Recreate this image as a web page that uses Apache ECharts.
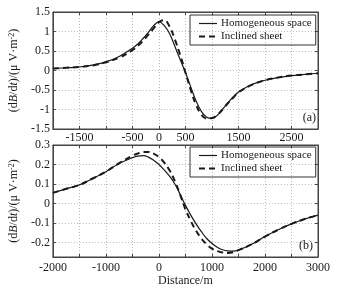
<!DOCTYPE html>
<html>
<head>
<meta charset="utf-8">
<script src="https://cdn.jsdelivr.net/npm/echarts@6/dist/echarts.min.js"></script>
<style>
  html, body { margin: 0; padding: 0; background: #fff; }
  #chart { width: 346px; height: 292px; }
</style>
</head>
<body>
<div id="chart"></div>
<script>
// distance (m), shared by both panels
const distances = [-2000, -1750, -1500, -1250, -1000, -750, -500, -400, -300, -200, -100, 0, 100, 200, 300, 400,
  500, 600, 700, 800, 900, 1000, 1100, 1200, 1300, 1400, 1500, 1750, 2000, 2250, 2500, 2750, 3000]

// panel (a)
const homogeneousA = [0.05, 0.07, 0.09, 0.14, 0.22, 0.36, 0.57, 0.68, 0.82, 0.98, 1.15, 1.25, 1.15, 0.95, 0.62, 0.28,
  -0.05, -0.42, -0.78, -1.05, -1.2, -1.23, -1.15, -0.99, -0.83, -0.68, -0.55, -0.36, -0.25, -0.18, -0.13, -0.1, -0.07]
const inclinedA = [0.05, 0.07, 0.09, 0.13, 0.21, 0.33, 0.52, 0.63, 0.76, 0.92, 1.08, 1.24, 1.29, 1.13, 0.8, 0.4,
  -0.05, -0.5, -0.88, -1.13, -1.23, -1.22, -1.14, -1.0, -0.84, -0.7, -0.56, -0.37, -0.25, -0.18, -0.13, -0.1, -0.07]

// panel (b)
const homogeneousB = [0.054, 0.075, 0.095, 0.128, 0.163, 0.205, 0.235, 0.243, 0.245, 0.238, 0.222, 0.2, 0.172, 0.14, 0.1, 0.047,
  -0.01, -0.06, -0.105, -0.145, -0.18, -0.205, -0.225, -0.238, -0.244, -0.245, -0.24, -0.21, -0.17, -0.135, -0.105, -0.08, -0.06]
const inclinedB = [0.054, 0.075, 0.095, 0.128, 0.163, 0.207, 0.245, 0.256, 0.264, 0.264, 0.256, 0.238, 0.21, 0.17, 0.115, 0.045,
  -0.03, -0.09, -0.14, -0.18, -0.21, -0.232, -0.245, -0.252, -0.254, -0.25, -0.24, -0.21, -0.17, -0.135, -0.105, -0.08, -0.06]

const xLabelsA = [-1500, -500, 0, 500, 1500, 2500]
const xLabelsB = [-2000, -1000, 0, 1000, 2000, 3000]
const yLabelsB = [-0.2, -0.1, 0, 0.1, 0.2, 0.3]

const seriesNames = ['Homogeneous space', 'Inclined sheet']

const FONT = 'Liberation Serif, Times New Roman, serif'
const INK = '#1a1a1a'
const DASH = [6, 4]

function pairs(ys) {
  return distances.map((x, i) => [x, ys[i]])
}

function yName() {
  return '{n|(d}{i|B}{n|/d}{i|t}{n|)/(μ V·m}{s|-2}{n|)}'
}

const nameRich = {
  n: { fontFamily: FONT, fontSize: 12, color: INK },
  i: { fontFamily: FONT, fontSize: 12, fontStyle: 'italic', color: INK },
  s: { fontFamily: FONT, fontSize: 8, color: INK, verticalAlign: 'top' },
}

const axisLine = { onZero: false, lineStyle: { color: '#444', width: 1 } }
const axisTick = { inside: true, length: 3, lineStyle: { color: '#444' } }
const gridLine = { show: true, lineStyle: { type: [1, 2], color: '#bbb', width: 1 } }

function xAxis(gridIndex, labels, margin, extra) {
  return Object.assign({
    type: 'value',
    gridIndex,
    min: -2000,
    max: 3000,
    interval: 500,
    axisLine,
    axisTick,
    axisLabel: {
      margin,
      fontFamily: FONT,
      fontSize: 12,
      color: INK,
      formatter: (v) => (labels.includes(v) ? String(v) : ''),
    },
    splitLine: gridLine,
  }, extra || {})
}

function mirrorX(gridIndex) {
  return {
    type: 'value', gridIndex, position: 'top', min: -2000, max: 3000, interval: 500,
    axisLine, axisTick, axisLabel: { show: false }, splitLine: { show: false },
  }
}

function mirrorY(gridIndex, min, max, interval) {
  return {
    type: 'value', gridIndex, position: 'right', min, max, interval,
    axisLine, axisTick, axisLabel: { show: false }, splitLine: { show: false },
  }
}

function legend(top) {
  return {
    data: [
      { name: seriesNames[0], lineStyle: { type: 'solid', width: 1.2 } },
      { name: seriesNames[1], lineStyle: { type: DASH, width: 2 } },
    ],
    orient: 'vertical', left: 190, top, itemWidth: 18, itemHeight: 10, itemGap: 2,
    padding: [3, 4, 3, 8], borderColor: '#333', borderWidth: 1, borderRadius: 0, selectedMode: false,
    itemStyle: { opacity: 0 },
    textStyle: { fontFamily: FONT, fontSize: 11, color: INK, padding: [0, 0, 0, -1] },
  }
}

function getChartOption() {
  return {
    animation: false,
    grid: [
      { left: 48, right: 28, top: 12, height: 117, show: true, borderColor: '#444', borderWidth: 1 },
      { left: 45, right: 28, top: 145, height: 112, show: true, borderColor: '#444', borderWidth: 1 },
    ],
    legend: [legend(15), legend(147)],
    xAxis: [
      xAxis(0, xLabelsA, 3),
      xAxis(1, xLabelsB, 5, {
        name: 'Distance/m', nameLocation: 'middle', nameGap: 16,
        nameTextStyle: { fontFamily: FONT, fontSize: 12, color: INK },
      }),
      mirrorX(0),
      mirrorX(1),
    ],
    yAxis: [
      {
        type: 'value', gridIndex: 0, min: -1.5, max: 1.5, interval: 0.5,
        name: yName(), nameLocation: 'middle', nameRotate: 90, nameGap: 28,
        nameTextStyle: { rich: nameRich },
        axisLine, axisTick,
        axisLabel: { margin: 3, fontFamily: FONT, fontSize: 12, color: INK },
        splitLine: gridLine,
      },
      {
        type: 'value', gridIndex: 1, min: -0.275, max: 0.3,
        name: yName(), nameLocation: 'middle', nameRotate: 90, nameGap: 27,
        nameTextStyle: { rich: nameRich },
        axisLine, axisTick,
        axisLabel: {
          margin: 3, fontFamily: FONT, fontSize: 12, color: INK,
          formatter: (v) => {
            const hit = yLabelsB.find((t) => Math.abs(t - v) < 1e-6)
            return hit === undefined ? '' : String(hit)
          },
        },
        splitLine: gridLine,
      },
      mirrorY(0, -1.5, 1.5, 0.5),
      mirrorY(1, -0.275, 0.3, undefined),
    ],
    graphic: [
      { type: 'text', right: 30, top: 112, style: { text: '(a)', font: '12px ' + FONT, fill: INK } },
      { type: 'text', right: 33, top: 240, style: { text: '(b)', font: '12px ' + FONT, fill: INK } },
    ],
    series: [
      {
        name: seriesNames[0], type: 'line', xAxisIndex: 0, yAxisIndex: 0, data: pairs(homogeneousA),
        smooth: 0.4, symbol: 'none', lineStyle: { color: INK, width: 1.2 }, itemStyle: { color: INK },
      },
      {
        name: seriesNames[1], type: 'line', xAxisIndex: 0, yAxisIndex: 0, data: pairs(inclinedA),
        smooth: 0.4, symbol: 'none', lineStyle: { color: INK, width: 2, type: DASH }, itemStyle: { color: INK },
      },
      {
        name: seriesNames[0], type: 'line', xAxisIndex: 1, yAxisIndex: 1, data: pairs(homogeneousB),
        smooth: 0.4, symbol: 'none', lineStyle: { color: INK, width: 1.2 }, itemStyle: { color: INK },
      },
      {
        name: seriesNames[1], type: 'line', xAxisIndex: 1, yAxisIndex: 1, data: pairs(inclinedB),
        smooth: 0.4, symbol: 'none', lineStyle: { color: INK, width: 2, type: DASH }, itemStyle: { color: INK },
      },
    ],
  }
}

const chartInstance = echarts.init(document.getElementById('chart'), null, { renderer: 'canvas' })
chartInstance.setOption(getChartOption(), { notMerge: true })
</script>
</body>
</html>
